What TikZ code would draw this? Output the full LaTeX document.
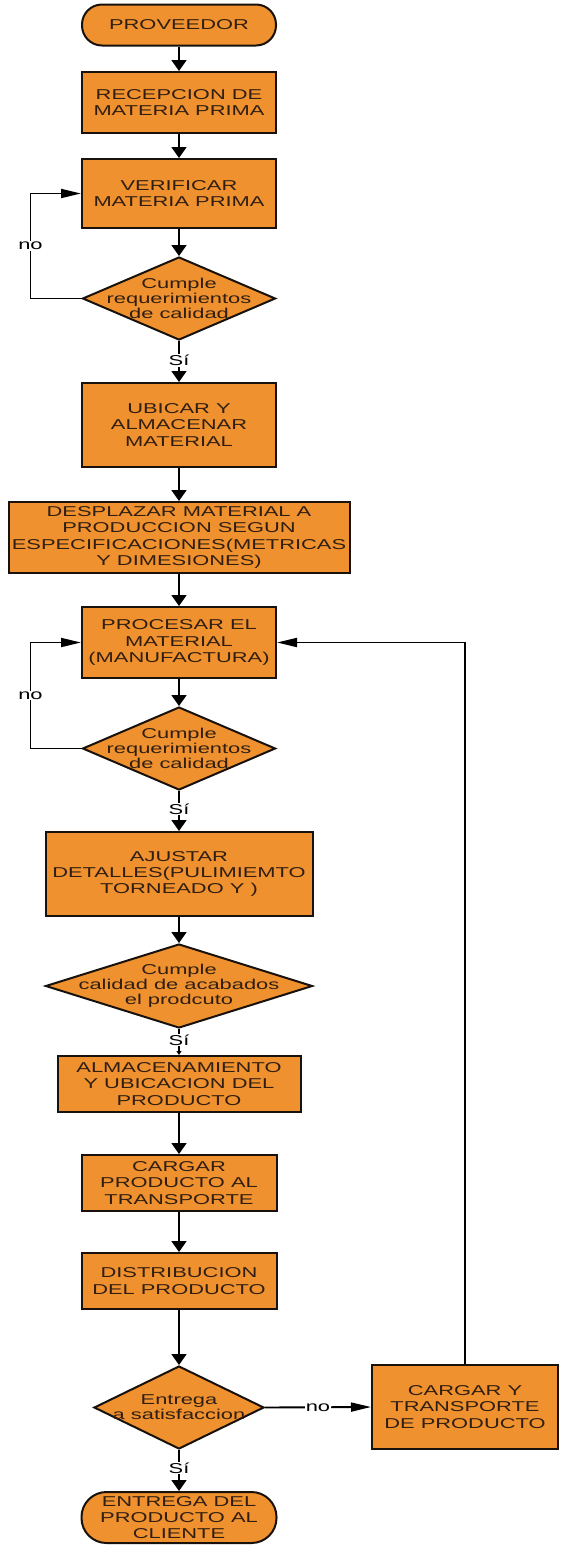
\documentclass[tikz,border=0pt]{standalone}
\usepackage{fontspec}
\setmainfont{Liberation Sans}[FakeStretch=1.53]
\usetikzlibrary{shapes.geometric,arrows.meta}
\definecolor{orfill}{RGB}{239,145,46}
\definecolor{txtc}{RGB}{48,30,18}
\definecolor{edgec}{RGB}{25,18,12}
\begin{document}
\begin{tikzpicture}[x=1pt,y=-1pt]
\tikzset{
 box/.style={draw=edgec, line width=2pt, fill=orfill, text=txtc, align=center, inner sep=0pt, font=\fontsize{14.3}{16.3}\selectfont},
 dia/.style={diamond, draw=edgec, line width=2pt, fill=orfill, inner sep=0pt},
 dtxt/.style={text=txtc, align=center, font=\fontsize{14.3}{15}\selectfont, inner sep=0pt},
 con/.style={draw=black, line width=1.9pt},
 varr/.style={con, -{Triangle[length=11pt,width=15pt]}},
 harr/.style={con, -{Triangle[length=20pt,width=9pt]}},
 sarr/.style={con, -{Triangle[length=4pt,width=5pt]}},
 lab/.style={fill=white, inner sep=1pt, text=black, font=\fontsize{14.3}{14.3}\selectfont},
}
\fill[white] (0,0) rectangle (560,1545);
\useasboundingbox (0,0) rectangle (560,1545);

\node[box, rounded corners=20pt, minimum width=194pt, minimum height=41pt] (prov) at (179,25) {PROVEEDOR};
\node[box, minimum width=194pt, minimum height=61pt] (rec) at (179,102.5) {RECEPCION DE\\MATERIA PRIMA};
\node[box, minimum width=194pt, minimum height=69pt] (ver) at (179,193.5) {VERIFICAR\\MATERIA PRIMA};
\node[dia, minimum width=193pt, minimum height=83pt] (d1) at (179,298.5) {};
\node[dtxt] at (d1) {Cumple\\requerimientos\\de calidad};
\node[box, minimum width=194pt, minimum height=84pt] (ubi) at (179,425) {UBICAR Y\\ALMACENAR\\MATERIAL};
\node[box, minimum width=341pt, minimum height=71pt] (des) at (179,537.5) {DESPLAZAR MATERIAL A\\PRODUCCION SEGUN\\ESPECIFICACIONES(METRICAS\\Y DIMESIONES)};
\node[box, minimum width=194pt, minimum height=71pt] (pro) at (179,642.5) {PROCESAR EL\\MATERIAL\\(MANUFACTURA)};
\node[dia, minimum width=193pt, minimum height=83pt] (d2) at (179,748.5) {};
\node[dtxt] at (d2) {Cumple\\requerimientos\\de calidad};
\node[box, minimum width=267pt, minimum height=84pt] (aju) at (179,874) {AJUSTAR\\DETALLES(PULIMIEMTO\\TORNEADO Y )};
\node[dia, minimum width=267pt, minimum height=84pt] (d3) at (179,986) {};
\node[dtxt] at (d3) {Cumple\\calidad de acabados\\el prodcuto};
\node[box, minimum width=243pt, minimum height=56pt] (alm) at (179,1084) {ALMACENAMIENTO\\Y UBICACION DEL\\PRODUCTO};
\node[box, minimum width=195pt, minimum height=56pt] (car) at (179,1183) {CARGAR\\PRODUCTO AL\\TRANSPORTE};
\node[box, minimum width=195pt, minimum height=56pt] (dis) at (179,1281) {DISTRIBUCION\\DEL PRODUCTO};
\node[dia, minimum width=170pt, minimum height=83pt] (d4) at (179,1407.5) {};
\node[dtxt] at (d4) {Entrega\\a satisfaccion};
\node[box, minimum width=186pt, minimum height=84pt] (cy) at (465,1407) {CARGAR Y\\TRANSPORTE\\DE PRODUCTO};
\node[box, rounded corners=25pt, minimum width=195pt, minimum height=51pt] (ent) at (179,1517.5) {ENTREGA DEL\\PRODUCTO AL\\CLIENTE};

\draw[varr] (prov) -- (rec);
\draw[varr] (rec) -- (ver);
\draw[varr] (ver) -- (d1);
\draw[harr] (d1.west) -- ++(-51,0) |- node[lab,pos=0.25]{no} (ver.west);
\draw[varr] (d1) -- node[lab,pos=0.47]{Sí} (ubi);
\draw[varr] (ubi) -- (des);
\draw[varr] (des) -- (pro);
\draw[varr] (pro) -- (d2);
\draw[harr] (d2.west) -- ++(-51,0) |- node[lab,pos=0.25]{no} (pro.west);
\draw[varr] (d2) -- node[lab,pos=0.45]{Sí} (aju);
\draw[varr] (aju) -- (d3);
\draw[sarr] (d3) -- node[lab,pos=0.42]{Sí} (alm);
\draw[varr] (alm) -- (car);
\draw[varr] (car) -- (dis);
\draw[varr] (dis) -- (d4);
\draw[varr] (d4) -- node[lab,pos=0.44]{Sí} (ent);
\draw[harr] (d4.east) -- node[lab]{no} (cy.west);
\draw[harr] (cy.north) |- (pro.east);
\end{tikzpicture}
\end{document}
